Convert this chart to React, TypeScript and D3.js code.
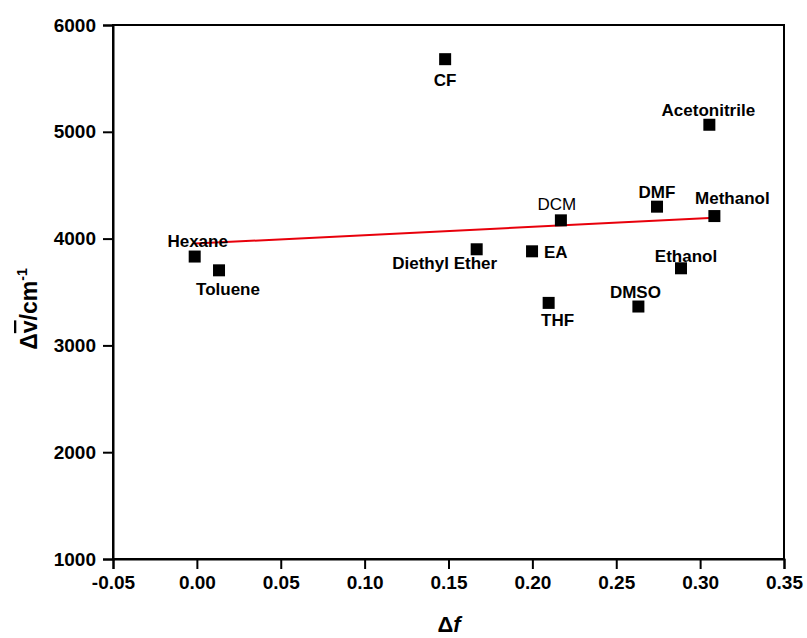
import * as d3 from "d3";
import { useEffect, useRef } from "react";

// solvent data
const solvents = ["Hexane", "Toluene", "CF", "Diethyl Ether", "EA", "THF", "DCM", "DMSO", "DMF", "Ethanol", "Acetonitrile", "Methanol"];
const deltaF = [-0.0013, 0.0132, 0.148, 0.1668, 0.1998, 0.2097, 0.217, 0.2632, 0.2743, 0.2886, 0.3055, 0.3085];
const deltaNu = [3832, 3703, 5680, 3900, 3881, 3398, 4171, 3364, 4299, 3722, 5066, 4211];

// linear fit end points
const fitX = [-0.0013, 0.3085];
const fitY = [3953, 4195];

const xTicks = [-0.05, 0, 0.05, 0.1, 0.15, 0.2, 0.25, 0.3, 0.35];
const yTicks = [1000, 2000, 3000, 4000, 5000, 6000];

// label placement relative to the square (px), and weight
const labelLayout: Record<string, { dx: number; dy: number; anchor: string; bold: boolean }> = {
  Hexane: { dx: 3, dy: -10, anchor: "middle", bold: true },
  Toluene: { dx: 9, dy: 25, anchor: "middle", bold: true },
  CF: { dx: 0, dy: 27, anchor: "middle", bold: true },
  "Diethyl Ether": { dx: -32, dy: 20, anchor: "middle", bold: true },
  EA: { dx: 12, dy: 7, anchor: "start", bold: true },
  THF: { dx: 9, dy: 23, anchor: "middle", bold: true },
  DCM: { dx: -4, dy: -10, anchor: "middle", bold: false },
  DMSO: { dx: -3, dy: -9, anchor: "middle", bold: true },
  DMF: { dx: 0, dy: -9, anchor: "middle", bold: true },
  Ethanol: { dx: 5, dy: -6, anchor: "middle", bold: true },
  Acetonitrile: { dx: -1, dy: -9, anchor: "middle", bold: true },
  Methanol: { dx: 18, dy: -12, anchor: "middle", bold: true },
};

const WIDTH = 807;
const HEIGHT = 638;
const FONT = "'Liberation Sans', Arial, sans-serif";

const App = () => {
  const svgRef = useRef<SVGSVGElement>(null);

  useEffect(() => {
    const svg = d3.select(svgRef.current);
    svg.selectAll("*").remove();

    const margin = { top: 25, right: 23, bottom: 79, left: 113 };
    const innerW = WIDTH - margin.left - margin.right;
    const innerH = HEIGHT - margin.top - margin.bottom;

    const x = d3.scaleLinear().domain([-0.05, 0.35]).range([0, innerW]);
    const y = d3.scaleLinear().domain([1000, 6000]).range([innerH, 0]);

    const g = svg.append("g").attr("transform", `translate(${margin.left},${margin.top})`);

    // frame
    g.append("rect")
      .attr("width", innerW)
      .attr("height", innerH)
      .attr("fill", "none")
      .attr("stroke", "#000")
      .attr("stroke-width", 2);

    // plain hyphen for negatives, like the original
    const fmtX = (d: any) => d3.format(".2f")(d).replace("\u2212", "-");

    const xAxis = g
      .append("g")
      .attr("transform", `translate(0,${innerH})`)
      .call(d3.axisBottom(x).tickValues(xTicks).tickSize(10).tickPadding(7).tickFormat(fmtX));
    const yAxis = g
      .append("g")
      .call(d3.axisLeft(y).tickValues(yTicks).tickSize(10).tickPadding(7).tickFormat(d3.format("d")));

    [xAxis, yAxis].forEach((ax) => {
      ax.select(".domain").attr("stroke-width", 2);
      ax.selectAll(".tick line").attr("stroke-width", 2);
      ax.selectAll(".tick text")
        .attr("font-family", FONT)
        .attr("font-weight", "bold")
        .attr("font-size", 19)
        .attr("fill", "#000");
    });

    // fit line
    g.append("line")
      .attr("x1", x(fitX[0]))
      .attr("y1", y(fitY[0]))
      .attr("x2", x(fitX[1]))
      .attr("y2", y(fitY[1]))
      .attr("stroke", "#e8000b")
      .attr("stroke-width", 2);

    const pts = solvents.map((name, i) => ({ name, fx: deltaF[i], nu: deltaNu[i] }));
    const size = 12;

    g.selectAll("rect.pt")
      .data(pts)
      .join("rect")
      .attr("class", "pt")
      .attr("x", (d) => x(d.fx) - size / 2)
      .attr("y", (d) => y(d.nu) - size / 2)
      .attr("width", size)
      .attr("height", size)
      .attr("fill", "#000");

    g.selectAll("text.lbl")
      .data(pts)
      .join("text")
      .attr("class", "lbl")
      .attr("x", (d) => x(d.fx) + labelLayout[d.name].dx)
      .attr("y", (d) => y(d.nu) + labelLayout[d.name].dy)
      .attr("text-anchor", (d) => labelLayout[d.name].anchor)
      .attr("font-family", FONT)
      .attr("font-size", 17)
      .attr("font-weight", (d) => (labelLayout[d.name].bold ? "bold" : "normal"))
      .attr("fill", "#000")
      .text((d) => d.name);

    // x axis title
    const xt = svg
      .append("text")
      .attr("x", 449)
      .attr("y", 632)
      .attr("text-anchor", "middle")
      .attr("font-family", FONT)
      .attr("font-size", 22)
      .attr("font-weight", "bold");
    xt.append("tspan").text("Δ");
    xt.append("tspan").attr("font-style", "italic").text("f");

    // y axis title
    const yt = svg
      .append("text")
      .attr("transform", "translate(37,309) rotate(-90)")
      .attr("text-anchor", "middle")
      .attr("font-family", FONT)
      .attr("font-size", 23)
      .attr("font-weight", "bold");
    yt.append("tspan").text("Δ");
    yt.append("tspan").attr("text-decoration", "overline").text("v");
    yt.append("tspan").text("/cm");
    yt.append("tspan").attr("font-size", 14).attr("dy", -10).text("-1");
  }, []);

  return (
    <svg
      ref={svgRef}
      width={WIDTH}
      height={HEIGHT}
      style={{ position: "absolute", left: 0, top: 0, background: "#fff" }}
    ></svg>
  );
};

export default App;
